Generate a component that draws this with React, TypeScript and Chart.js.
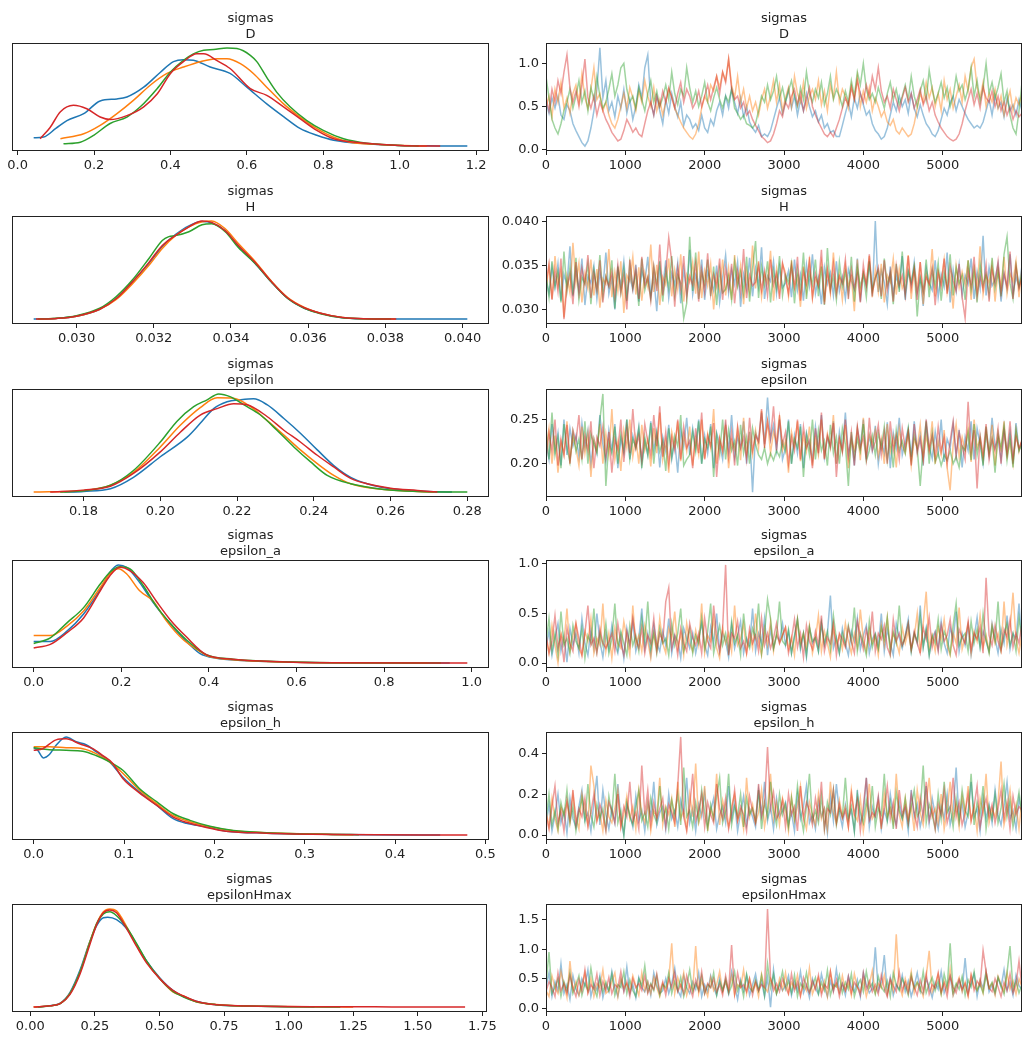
import React, { useEffect, useRef } from 'react'
import { Chart, registerables } from 'chart.js'

Chart.register(...registerables)

type Pt = [number, number]

// chain colours (matplotlib tab10 C0..C3)
const COLORS = ['#1f77b4', '#ff7f0e', '#2ca02c', '#d62728']
const TRACE_COLORS = ['rgba(31,119,180,0.45)', 'rgba(255,127,14,0.45)', 'rgba(44,160,44,0.45)', 'rgba(214,39,40,0.45)']
const DRAWS = 6000

const varNames = ['D', 'H', 'epsilon', 'epsilon_a', 'epsilon_h', 'epsilonHmax']

// ---- posterior densities, one curve per chain: [value, relative density]
const kdeD: Pt[][] = [
  [[0.042, 8.5], [0.068, 9.2], [0.1, 18], [0.129, 26], [0.173, 33], [0.216, 46], [0.26, 48], [0.286, 50], [0.33, 60], [0.373, 75], [0.408, 86], [0.434, 88], [0.46, 87.5], [0.504, 80.5], [0.556, 74], [0.6, 60], [0.652, 43], [0.696, 30], [0.739, 18], [0.783, 11], [0.827, 6], [0.914, 2.4], [1.0, 0.7], [1.1, 0.2], [1.177, 0]],
  [[0.112, 7.5], [0.173, 12.5], [0.216, 21], [0.26, 33], [0.303, 46.5], [0.347, 62], [0.391, 74], [0.434, 80.5], [0.478, 86], [0.522, 89], [0.548, 89], [0.583, 84], [0.617, 74], [0.652, 60], [0.696, 43], [0.739, 29.5], [0.783, 17.7], [0.827, 9], [0.87, 4], [0.957, 1.4], [1.071, 0]],
  [[0.12, 2.4], [0.164, 4], [0.199, 11], [0.242, 23], [0.286, 29.6], [0.321, 40], [0.365, 58.5], [0.4, 75.5], [0.434, 87.4], [0.46, 94], [0.487, 97.6], [0.513, 98.3], [0.548, 100], [0.574, 99.3], [0.609, 92.5], [0.626, 86], [0.652, 70], [0.678, 55], [0.713, 40], [0.757, 26], [0.8, 16], [0.853, 7.5], [0.914, 3], [1.0, 0.7], [1.05, 0.2]],
  [[0.059, 7.5], [0.085, 19], [0.112, 35], [0.146, 41.5], [0.181, 38], [0.216, 29.6], [0.242, 27], [0.286, 31], [0.33, 40], [0.365, 53], [0.4, 74], [0.434, 86], [0.469, 94], [0.487, 94], [0.522, 87], [0.556, 79], [0.609, 58.5], [0.652, 51.7], [0.696, 40], [0.739, 28], [0.783, 16], [0.827, 7.5], [0.914, 3], [1.0, 0.7], [1.106, 0]],
]
const kdeH: Pt[][] = [
  [[0.02889, 0], [0.0294, 0.7], [0.03, 3], [0.0306, 10], [0.03103, 21], [0.03145, 38], [0.03188, 57], [0.03222, 74], [0.03256, 86], [0.03291, 95], [0.03325, 99.3], [0.0335, 98], [0.03385, 90], [0.03419, 74], [0.03462, 57], [0.03504, 38], [0.03547, 21], [0.0359, 11], [0.03632, 6], [0.03684, 1.7], [0.03744, 0.3], [0.03821, 0.05], [0.04012, 0]],
  [[0.029, 0], [0.0295, 0.8], [0.03, 3], [0.0306, 10], [0.03103, 20], [0.03145, 36], [0.03188, 55], [0.03222, 72], [0.03256, 85], [0.03291, 94], [0.03325, 99], [0.0335, 100], [0.03385, 92], [0.03419, 77], [0.03462, 59], [0.03504, 39], [0.03547, 22], [0.0359, 12], [0.03632, 6], [0.03684, 2], [0.03744, 0.4], [0.03825, 0]],
  [[0.029, 0], [0.0295, 0.9], [0.03, 3.5], [0.0306, 11], [0.03103, 23], [0.03145, 40], [0.03188, 62], [0.03222, 80], [0.03239, 84], [0.03256, 85], [0.03291, 89], [0.03325, 96], [0.0335, 97], [0.03385, 89], [0.03419, 73], [0.03462, 57], [0.03504, 38], [0.03547, 21], [0.0359, 11], [0.03632, 5.5], [0.03684, 1.6], [0.03744, 0.3], [0.03815, 0]],
  [[0.02895, 0], [0.0295, 0.7], [0.03, 3], [0.0306, 10], [0.03103, 21], [0.03145, 38], [0.03188, 58], [0.03222, 75], [0.03256, 85], [0.03291, 94], [0.03325, 100], [0.0335, 98.5], [0.03385, 90], [0.03419, 75], [0.03462, 58], [0.03504, 38.5], [0.03547, 21.5], [0.0359, 11.5], [0.03632, 6], [0.03684, 1.8], [0.03744, 0.3], [0.03828, 0]],
]
const kdeEpsilon: Pt[][] = [
  [[0.175, 0], [0.18, 0.7], [0.187, 3.4], [0.193, 15], [0.2, 36], [0.207, 56], [0.2104, 70], [0.2139, 85], [0.2174, 92], [0.2209, 94], [0.2243, 95], [0.2278, 89], [0.2322, 75], [0.2365, 60], [0.2409, 43], [0.2452, 27], [0.2496, 15], [0.2539, 8.5], [0.26, 3.4], [0.267, 1], [0.2722, 0.3], [0.276, 0]],
  [[0.167, 0], [0.18, 1.7], [0.187, 7], [0.193, 20], [0.2, 46], [0.2052, 68], [0.2104, 86], [0.2148, 96], [0.2191, 95.5], [0.2235, 87], [0.2278, 73], [0.2322, 58], [0.2365, 43], [0.2409, 29], [0.2452, 17], [0.2496, 8.5], [0.2583, 2.7], [0.2713, 0]],
  [[0.1739, 0], [0.18, 1.4], [0.187, 7], [0.193, 22], [0.2, 51], [0.2043, 72], [0.2087, 87], [0.2122, 94], [0.2152, 100], [0.2183, 97], [0.2217, 89], [0.2261, 78.5], [0.2304, 63], [0.2348, 46], [0.2391, 31], [0.2435, 17], [0.2496, 8.5], [0.2583, 2.7], [0.267, 0.7], [0.28, 0]],
  [[0.1713, 0], [0.18, 2], [0.187, 6], [0.193, 19], [0.2, 41], [0.2052, 61], [0.2104, 78.5], [0.2148, 85], [0.2191, 90], [0.2226, 89], [0.2278, 77], [0.2322, 63], [0.2365, 51], [0.2409, 37.5], [0.2452, 25.6], [0.2496, 14], [0.2539, 8.5], [0.26, 4], [0.267, 1.7], [0.2722, 0]],
]
const kdeEpsilonA: Pt[][] = [
  [[0, 22], [0.038, 22], [0.076, 32.5], [0.114, 50], [0.152, 75], [0.174, 92.5], [0.193, 100], [0.212, 97.6], [0.242, 82], [0.273, 61.6], [0.303, 44.5], [0.341, 25.7], [0.379, 10], [0.417, 5], [0.492, 2.4], [0.682, 0.3], [0.95, 0]],
  [[0, 28], [0.038, 28], [0.076, 37.7], [0.114, 53], [0.152, 77], [0.174, 91], [0.193, 96], [0.212, 91], [0.242, 73.6], [0.273, 63], [0.303, 43], [0.341, 24], [0.379, 12], [0.4, 6.8], [0.455, 3.4], [0.53, 1.7], [0.682, 0.3], [0.9, 0]],
  [[0, 20], [0.038, 25.7], [0.076, 41], [0.114, 56.5], [0.152, 80.5], [0.174, 92.5], [0.197, 98], [0.22, 96], [0.25, 79], [0.28, 58], [0.311, 41], [0.348, 24], [0.394, 8.6], [0.455, 4], [0.53, 2], [0.682, 0.3], [0.93, 0]],
  [[0, 15.4], [0.038, 19], [0.076, 31], [0.114, 46], [0.152, 73.6], [0.174, 89], [0.197, 97.6], [0.22, 94], [0.25, 82], [0.28, 63], [0.311, 44.5], [0.348, 27], [0.394, 8.6], [0.455, 4], [0.53, 2], [0.682, 0.3], [0.99, 0]],
]
const kdeEpsilonH: Pt[][] = [
  [[0, 89], [0.0044, 86.4], [0.011, 78.6], [0.0174, 82], [0.0248, 91.5], [0.0359, 100], [0.047, 95], [0.058, 92], [0.069, 85], [0.084, 74.6], [0.0987, 59], [0.117, 44], [0.136, 30.5], [0.154, 17], [0.169, 12], [0.191, 8.5], [0.213, 4], [0.258, 2], [0.332, 0.7], [0.45, 0]],
  [[0, 90], [0.0174, 90], [0.0359, 89], [0.0544, 88], [0.069, 83], [0.084, 74.6], [0.0987, 63], [0.117, 46], [0.136, 32], [0.154, 20], [0.173, 13.6], [0.195, 8.5], [0.221, 4.4], [0.258, 2.4], [0.332, 0.7], [0.354, 0.3]],
  [[0, 89], [0.0174, 87], [0.0359, 86.4], [0.0544, 85.4], [0.069, 81], [0.084, 74.6], [0.0987, 66], [0.117, 47.5], [0.136, 34], [0.154, 22], [0.173, 15], [0.195, 9], [0.221, 4.7], [0.258, 2.4], [0.332, 0.7], [0.36, 0.4]],
  [[0, 86.4], [0.01, 88], [0.0248, 97], [0.0359, 98], [0.0507, 93], [0.0655, 88], [0.0766, 81], [0.0876, 73], [0.0987, 57.6], [0.117, 43], [0.136, 30.5], [0.154, 18.6], [0.169, 13], [0.191, 7.8], [0.213, 4], [0.258, 2], [0.332, 0.7], [0.48, 0]],
]
const kdeEpsilonHmax: Pt[][] = [
  [[0.02, 0], [0.077, 1.5], [0.116, 4], [0.154, 15], [0.193, 38], [0.231, 67], [0.257, 83], [0.283, 91], [0.3, 91.5], [0.334, 89], [0.373, 80], [0.411, 64], [0.45, 47], [0.501, 30], [0.552, 17], [0.591, 11], [0.642, 6], [0.719, 2.5], [0.848, 1], [1.0, 0.4], [1.1, 0]],
  [[0.0128, 0], [0.077, 1.4], [0.116, 3.7], [0.154, 14], [0.193, 36], [0.231, 66.7], [0.257, 85], [0.283, 97], [0.308, 100], [0.334, 98], [0.373, 82], [0.411, 63], [0.45, 46], [0.501, 29], [0.552, 15.6], [0.591, 11.6], [0.642, 5.4], [0.719, 2.7], [0.848, 1], [1.169, 0.3], [1.25, 0]],
  [[0.03, 0], [0.077, 1.3], [0.116, 3.5], [0.154, 14], [0.193, 36], [0.231, 66], [0.257, 85], [0.283, 95], [0.308, 97], [0.334, 93], [0.373, 81], [0.411, 65], [0.45, 47], [0.501, 29], [0.552, 16], [0.591, 10.5], [0.642, 5.5], [0.719, 2.5], [0.848, 1], [1.05, 0.3], [1.2, 0]],
  [[0.0128, 0], [0.077, 1.4], [0.116, 3.5], [0.154, 13], [0.193, 34], [0.231, 64], [0.257, 84], [0.283, 96], [0.308, 99], [0.334, 96], [0.373, 80], [0.411, 62], [0.45, 45], [0.501, 29], [0.552, 17], [0.591, 11.5], [0.642, 6], [0.7, 2.8], [0.719, 2.5], [0.848, 1], [1.169, 0.4], [1.4, 0.2], [1.683, 0]],
]

// ---- traces, thinned to 160 values per chain over the 6000 draws,
// stored as integers in the unit given in TRACE_UNITS
const TRACE_UNITS = [0.01, 0.0001, 0.001, 0.01, 0.01, 0.01]

const traceD: number[][] = [
  [55, 42, 60, 48, 62, 40, 35, 52, 45, 30, 22, 15, 8, 4, 10, 25, 45, 70, 118, 60,
    80, 45, 55, 38, 62, 48, 70, 42, 58, 35, 50, 75, 60, 95, 110, 55, 40, 62, 45, 30,
    58, 42, 65, 50, 38, 55, 28, 40, 35, 25, 30, 22, 40, 25, 20, 35, 28, 45, 55, 40,
    62, 48, 70, 55, 42, 60, 38, 50, 32, 25, 20, 28, 15, 18, 15, 22, 35, 48, 60, 42,
    55, 70, 48, 62, 40, 58, 45, 65, 50, 38, 45, 32, 40, 25, 30, 20, 22, 15, 15, 28,
    42, 55, 38, 60, 48, 65, 52, 40, 45, 30, 22, 18, 12, 15, 25, 40, 55, 45, 62, 50,
    58, 42, 65, 48, 38, 52, 40, 30, 25, 18, 15, 22, 35, 48, 40, 55, 62, 45, 58, 50,
    42, 35, 30, 25, 28, 25, 32, 45, 58, 40, 62, 48, 55, 38, 60, 45, 52, 40, 58, 45],
  [50, 62, 38, 70, 55, 78, 48, 60, 42, 65, 75, 55, 88, 60, 48, 70, 95, 58, 65, 45,
    55, 40, 30, 25, 35, 50, 65, 48, 72, 60, 45, 68, 55, 80, 62, 50, 72, 45, 58, 40,
    55, 70, 62, 48, 40, 32, 25, 20, 15, 12, 18, 30, 48, 62, 55, 75, 68, 85, 72, 90,
    80, 105, 75, 60, 85, 55, 70, 48, 62, 45, 55, 40, 58, 70, 48, 62, 80, 55, 75, 45,
    60, 72, 50, 85, 65, 55, 78, 48, 62, 70, 58, 80, 52, 68, 45, 75, 60, 90, 55, 70,
    62, 48, 75, 58, 85, 50, 68, 55, 72, 45, 60, 50, 38, 45, 32, 28, 35, 22, 18, 25,
    20, 15, 18, 30, 48, 65, 55, 78, 60, 72, 50, 65, 45, 80, 58, 70, 48, 62, 75, 55,
    85, 68, 95, 105, 72, 60, 78, 50, 65, 55, 70, 48, 62, 40, 55, 68, 45, 60, 52, 65],
  [85, 60, 35, 25, 18, 30, 45, 55, 70, 48, 62, 80, 55, 68, 45, 72, 58, 85, 62, 48,
    55, 70, 88, 62, 75, 95, 100, 70, 55, 62, 48, 72, 58, 45, 65, 80, 55, 68, 50, 60,
    75, 58, 90, 65, 52, 70, 62, 95, 72, 55, 68, 50, 62, 78, 55, 45, 60, 72, 58, 48,
    62, 55, 70, 48, 42, 35, 40, 30, 28, 25, 30, 45, 62, 55, 75, 58, 68, 85, 60, 72,
    55, 68, 80, 62, 50, 72, 58, 90, 65, 55, 70, 60, 78, 52, 65, 85, 58, 70, 62, 50,
    68, 55, 80, 62, 90, 75, 100, 70, 58, 65, 55, 72, 60, 48, 65, 78, 58, 70, 52, 62,
    75, 58, 85, 62, 50, 68, 80, 58, 92, 70, 55, 65, 78, 60, 72, 50, 62, 85, 68, 75,
    58, 70, 95, 62, 80, 55, 72, 100, 65, 78, 60, 72, 88, 55, 68, 40, 25, 18, 45, 78],
  [60, 45, 70, 55, 80, 65, 90, 110, 72, 55, 68, 50, 75, 105, 60, 48, 62, 40, 55, 45,
    35, 28, 20, 15, 10, 12, 22, 35, 28, 20, 25, 18, 15, 30, 45, 55, 40, 62, 50, 68,
    55, 72, 60, 48, 65, 78, 55, 70, 62, 48, 55, 68, 50, 62, 75, 58, 72, 85, 65, 90,
    78, 105, 70, 58, 62, 48, 55, 40, 45, 35, 28, 22, 15, 12, 8, 10, 18, 30, 45, 38,
    55, 48, 62, 70, 52, 65, 45, 58, 72, 50, 40, 32, 25, 18, 15, 20, 15, 25, 35, 48,
    60, 52, 72, 58, 80, 65, 55, 75, 62, 85, 70, 95, 68, 55, 62, 48, 70, 58, 45, 60,
    72, 55, 65, 48, 58, 70, 52, 62, 45, 55, 40, 32, 25, 20, 15, 12, 10, 12, 18, 30,
    45, 58, 70, 52, 65, 48, 72, 60, 55, 68, 50, 62, 45, 55, 40, 50, 35, 45, 38, 42],
]
const traceH: number[][] = [
  [335, 318, 348, 325, 352, 310, 340, 328, 372, 315, 345, 322, 358, 305, 338, 330, 350, 312, 342, 325,
    365, 318, 336, 300, 347, 327, 355, 314, 339, 322, 351, 309, 344, 331, 360, 316, 337, 298, 349, 324,
    356, 313, 341, 328, 353, 307, 346, 320, 368, 317, 339, 326, 357, 311, 343, 333, 321, 350, 308, 336,
    362, 319, 345, 329, 354, 303, 340, 323, 359, 315, 347, 326, 371, 312, 338, 332, 355, 318, 349, 325,
    330, 344, 314, 357, 322, 340, 310, 351, 327, 363, 318, 336, 306, 348, 329, 342, 316, 355, 321, 337,
    312, 346, 333, 323, 358, 309, 341, 327, 352, 315, 401, 320, 344, 331, 306, 349, 318, 338, 325, 361,
    311, 343, 328, 354, 319, 336, 304, 347, 330, 322, 356, 314, 340, 326, 365, 308, 345, 321, 351, 317,
    339, 329, 358, 312, 343, 324, 384, 316, 348, 327, 334, 352, 309, 341, 323, 363, 318, 337, 326, 350],
  [322, 350, 312, 361, 327, 344, 291, 338, 319, 376, 330, 353, 308, 341, 324, 357, 316, 346, 302, 335,
    329, 369, 314, 343, 321, 355, 296, 339, 332, 360, 317, 348, 310, 342, 326, 374, 320, 351, 305, 337,
    328, 358, 315, 345, 323, 363, 309, 340, 331, 354, 318, 366, 313, 344, 327, 352, 300, 339, 322, 357,
    316, 347, 311, 362, 329, 350, 306, 343, 320, 373, 324, 355, 314, 341, 330, 367, 310, 346, 319, 352,
    342, 315, 356, 325, 338, 303, 349, 321, 360, 313, 336, 327, 353, 309, 344, 318, 365, 323, 340, 311,
    350, 326, 337, 298, 357, 316, 343, 329, 361, 314, 345, 320, 352, 308, 339, 331, 358, 317, 346, 324,
    333, 362, 312, 348, 323, 354, 306, 341, 327, 369, 315, 344, 330, 357, 319, 338, 301, 350, 325, 343,
    328, 356, 311, 347, 322, 372, 317, 339, 330, 352, 309, 345, 326, 360, 318, 341, 332, 355, 314, 348],
  [340, 314, 355, 326, 343, 308, 366, 321, 348, 317, 359, 311, 337, 329, 352, 306, 345, 323, 362, 315,
    338, 327, 356, 301, 349, 319, 347, 310, 353, 325, 341, 304, 358, 322, 336, 312, 349, 328, 355, 309,
    344, 324, 361, 316, 339, 330, 290, 307, 383, 321, 365, 312, 342, 328, 357, 315, 349, 305, 346, 319,
    323, 338, 311, 354, 326, 343, 318, 360, 309, 347, 378, 313, 349, 328, 355, 308, 344, 324, 361, 316,
    339, 330, 352, 307, 346, 321, 365, 312, 342, 328, 357, 315, 349, 305, 370, 323, 338, 311, 354, 326,
    343, 318, 360, 309, 347, 326, 340, 314, 355, 322, 336, 345, 312, 358, 327, 341, 306, 352, 320, 366,
    318, 344, 331, 349, 292, 336, 321, 357, 314, 345, 327, 353, 310, 342, 325, 363, 316, 348, 330, 339,
    311, 356, 322, 345, 308, 351, 328, 340, 317, 359, 324, 343, 315, 363, 383, 330, 312, 350, 326, 341],
  [328, 352, 311, 345, 320, 358, 289, 325, 340, 306, 354, 318, 347, 329, 362, 313, 341, 322, 356, 308,
    337, 326, 343, 315, 351, 319, 339, 300, 357, 324, 346, 312, 360, 327, 337, 310, 349, 321, 374, 316,
    342, 382, 355, 303, 348, 323, 361, 314, 338, 328, 353, 309, 345, 320, 364, 317, 340, 326, 358, 311,
    347, 324, 352, 307, 343, 319, 369, 313, 339, 327, 331, 350, 322, 344, 316, 357, 328, 341, 312, 353,
    336, 318, 349, 325, 360, 310, 344, 329, 355, 314, 341, 327, 368, 306, 346, 321, 352, 317, 338, 330,
    357, 312, 345, 324, 340, 308, 351, 326, 363, 319, 335, 348, 315, 356, 322, 343, 309, 350, 328, 339,
    316, 361, 324, 345, 311, 354, 320, 337, 329, 347, 305, 342, 326, 358, 318, 349, 333, 321, 352, 314,
    290, 344, 327, 360, 315, 338, 323, 351, 309, 346, 330, 355, 318, 341, 326, 366, 312, 349, 324, 337],
]
const traceEpsilon: number[][] = [
  [225, 205, 245, 215, 235, 198, 250, 210, 240, 220, 232, 208, 246, 218, 238, 200, 228, 212, 255, 222,
    203, 238, 215, 245, 195, 228, 212, 250, 205, 232, 218, 242, 200, 226, 210, 248, 215, 236, 196, 230,
    214, 244, 205, 225, 190, 238, 220, 252, 210, 240, 218, 250, 200, 232, 212, 245, 195, 235, 222, 205,
    242, 215, 255, 208, 230, 218, 248, 200, 236, 168, 235, 225, 258, 222, 275, 228, 244, 215, 250, 205,
    218, 250, 200, 232, 212, 245, 195, 235, 222, 205, 242, 215, 255, 208, 230, 218, 248, 200, 236, 214,
    258, 210, 228, 198, 240, 220, 250, 205, 232, 215, 243, 200, 226, 212, 247, 195, 235, 218, 252, 210,
    225, 240, 208, 248, 215, 232, 198, 244, 220, 206, 236, 212, 250, 202, 228, 218, 245, 208, 238, 196,
    230, 215, 248, 205, 240, 222, 200, 235, 210, 252, 218, 228, 204, 242, 212, 236, 200, 246, 215, 226],
  [215, 240, 200, 232, 190, 225, 210, 248, 205, 230, 218, 198, 242, 212, 235, 185, 228, 215, 245, 200,
    234, 210, 262, 205, 225, 192, 238, 218, 250, 208, 230, 200, 244, 215, 228, 197, 240, 212, 258, 205,
    226, 190, 236, 220, 248, 203, 232, 214, 242, 198, 228, 210, 250, 206, 234, 218, 262, 200, 230, 213,
    244, 195, 226, 216, 240, 204, 252, 211, 233, 210, 238, 218, 260, 222, 248, 212, 236, 225, 255, 215,
    226, 190, 236, 220, 248, 203, 232, 214, 242, 198, 228, 210, 250, 206, 234, 218, 255, 200, 230, 213,
    244, 195, 226, 216, 240, 204, 252, 211, 233, 222, 238, 208, 228, 200, 245, 214, 230, 196, 240, 220,
    212, 236, 198, 228, 218, 244, 205, 232, 215, 248, 200, 226, 210, 238, 195, 170, 222, 245, 208, 230,
    215, 240, 202, 250, 218, 228, 205, 236, 212, 244, 198, 230, 216, 248, 208, 225, 200, 238, 214, 228],
  [240, 205, 258, 210, 230, 195, 245, 218, 202, 236, 214, 228, 205, 248, 200, 234, 222, 212, 250, 279,
    175, 225, 212, 242, 200, 234, 215, 250, 205, 228, 218, 240, 195, 230, 210, 246, 200, 235, 214, 226,
    192, 240, 208, 232, 220, 255, 198, 205, 210, 236, 214, 248, 200, 228, 218, 242, 185, 232, 210, 250,
    205, 238, 215, 226, 198, 244, 212, 230, 200, 240, 222, 210, 205, 218, 200, 212, 204, 215, 208, 225,
    214, 248, 200, 228, 218, 242, 185, 232, 210, 250, 205, 238, 215, 226, 198, 244, 212, 230, 200, 240,
    222, 175, 236, 208, 228, 214, 245, 203, 215, 232, 210, 235, 218, 242, 204, 230, 196, 238, 215, 226,
    212, 240, 205, 232, 218, 175, 220, 248, 200, 234, 202, 212, 198, 210, 204, 215, 200, 208, 196, 220,
    215, 236, 204, 245, 210, 230, 198, 242, 212, 228, 190, 235, 218, 242, 204, 230, 196, 238, 215, 222],
  [205, 235, 215, 250, 198, 228, 210, 244, 200, 238, 225, 255, 205, 232, 215, 248, 195, 230, 220, 242,
    208, 236, 190, 228, 216, 250, 202, 240, 212, 262, 218, 232, 205, 245, 225, 210, 255, 220, 265, 208,
    236, 200, 230, 215, 250, 205, 242, 218, 226, 195, 240, 212, 258, 205, 232, 220, 246, 185, 228, 215,
    250, 208, 236, 198, 242, 218, 230, 205, 252, 215, 232, 225, 262, 218, 248, 228, 265, 215, 252, 222,
    236, 200, 230, 215, 250, 205, 242, 218, 226, 195, 240, 212, 258, 205, 232, 220, 246, 185, 228, 215,
    250, 208, 236, 198, 242, 218, 230, 205, 252, 215, 225, 244, 210, 236, 200, 248, 215, 232, 205, 240,
    218, 236, 198, 245, 212, 228, 205, 250, 215, 232, 208, 242, 214, 230, 200, 226, 248, 210, 236, 220,
    205, 270, 215, 238, 172, 232, 210, 245, 205, 228, 215, 240, 200, 235, 212, 248, 206, 230, 218, 226],
]
const traceEpsilonA: number[][] = [
  [15, 32, 8, 25, 40, 12, 28, 1, 35, 18, 30, 10, 45, 20, 8, 33, 15, 50, 22, 6,
    30, 14, 38, 20, 10, 28, 5, 35, 18, 42, 12, 25, 55, 15, 30, 8, 38, 20, 12, 32,
    18, 45, 10, 28, 22, 5, 35, 25, 15, 30, 10, 25, 40, 18, 8, 36, 20, 50, 12, 30,
    22, 6, 38, 15, 28, 42, 10, 25, 18, 55, 12, 30, 20, 45, 8, 35, 15, 28, 22, 40,
    18, 32, 10, 26, 44, 14, 30, 6, 36, 20, 25, 12, 40, 18, 30, 68, 15, 26, 10, 35,
    20, 8, 32, 22, 45, 14, 28, 38, 10, 24, 30, 16, 50, 12, 34, 20, 8, 40, 26, 15,
    28, 44, 12, 30, 20, 58, 16, 35, 8, 25, 32, 14, 42, 20, 10, 36, 24, 52, 12, 30,
    18, 38, 8, 26, 46, 16, 32, 22, 12, 40, 25, 10, 34, 20, 48, 14, 30, 24, 60, 18],
  [25, 10, 38, 18, 0, 30, 20, 55, 12, 28, 40, 15, 8, 32, 22, 45, 10, 25, 18, 60,
    12, 30, 5, 35, 20, 15, 42, 25, 8, 58, 18, 28, 12, 38, 22, 5, 30, 15, 45, 20,
    10, 35, 25, 52, 15, 30, 8, 40, 20, 12, 33, 18, 60, 10, 28, 22, 45, 15, 5, 35,
    20, 30, 12, 58, 18, 25, 40, 10, 30, 15, 50, 22, 8, 35, 18, 42, 12, 30, 20, 28,
    36, 14, 26, 8, 44, 20, 30, 16, 38, 10, 24, 48, 12, 32, 20, 6, 36, 18, 28, 14,
    40, 22, 10, 30, 16, 54, 24, 12, 34, 20, 28, 8, 38, 18, 46, 14, 30, 22, 10, 36,
    20, 32, 14, 26, 50, 10, 40, 72, 16, 28, 12, 36, 24, 44, 18, 8, 30, 20, 56, 14,
    26, 40, 10, 32, 22, 48, 16, 28, 12, 38, 20, 30, 14, 62, 18, 34, 71, 24, 10, 30],
  [20, 45, 12, 30, 8, 52, 18, 25, 10, 38, 22, 15, 35, 5, 28, 20, 55, 12, 30, 18,
    40, 10, 25, 60, 15, 32, 20, 8, 38, 18, 28, 12, 45, 22, 62, 15, 30, 10, 35, 20,
    25, 8, 40, 18, 30, 55, 12, 22, 35, 10, 28, 20, 45, 15, 32, 60, 10, 25, 38, 18,
    30, 12, 42, 20, 28, 8, 50, 22, 15, 35, 25, 60, 10, 30, 64, 45, 15, 28, 62, 22,
    18, 34, 10, 28, 44, 16, 30, 8, 36, 22, 26, 12, 40, 20, 32, 14, 48, 24, 10, 30,
    18, 38, 22, 56, 12, 30, 20, 8, 42, 16, 28, 14, 36, 24, 46, 10, 32, 20, 58, 18,
    26, 40, 12, 30, 22, 48, 16, 34, 8, 28, 20, 44, 14, 32, 24, 10, 38, 60, 18, 26,
    30, 12, 42, 20, 34, 16, 50, 24, 10, 36, 22, 62, 14, 28, 40, 18, 30, 12, 46, 24],
  [30, 10, 22, 48, 15, 28, 1, 35, 20, 12, 40, 25, 8, 30, 58, 18, 25, 10, 35, 20,
    15, 22, 30, 12, 40, 20, 8, 32, 18, 45, 25, 15, 35, 10, 28, 20, 45, 12, 30, 22,
    62, 76, 15, 28, 8, 35, 20, 12, 40, 25, 18, 30, 10, 45, 22, 15, 58, 28, 12, 35,
    99, 8, 30, 25, 42, 15, 22, 10, 35, 20, 28, 12, 45, 18, 30, 15, 25, 40, 20, 28,
    36, 10, 24, 44, 16, 30, 6, 38, 22, 14, 32, 18, 48, 12, 26, 20, 40, 8, 30, 24,
    16, 36, 22, 10, 42, 28, 14, 34, 20, 52, 12, 30, 24, 38, 16, 8, 44, 22, 30, 18,
    26, 40, 14, 32, 20, 10, 36, 24, 46, 16, 30, 12, 38, 22, 28, 44, 18, 8, 34, 26,
    20, 42, 14, 30, 24, 36, 10, 86, 28, 18, 38, 22, 12, 34, 26, 44, 16, 30, 20, 40],
]
const traceEpsilonH: number[][] = [
  [5, 15, 2, 10, 20, 6, 12, 1, 18, 8, 4, 14, 22, 7, 11, 2, 16, 29, 5, 22,
    10, 3, 13, 6, 25, 8, 0, 15, 10, 4, 19, 7, 12, 2, 16, 9, 26, 5, 11, 14,
    3, 20, 8, 12, 4, 17, 10, 28, 6, 13, 2, 15, 9, 21, 5, 12, 18, 3, 10, 14,
    6, 24, 8, 16, 2, 11, 19, 5, 13, 9, 4, 22, 10, 26, 7, 14, 3, 18, 9, 12,
    16, 5, 11, 2, 20, 8, 14, 24, 6, 10, 3, 17, 9, 13, 1, 19, 7, 25, 11, 4,
    15, 8, 12, 2, 22, 6, 10, 28, 4, 14, 9, 18, 3, 12, 7, 20, 10, 5, 16, 8,
    13, 2, 22, 9, 15, 4, 11, 24, 6, 18, 10, 3, 14, 8, 20, 5, 12, 33, 7, 16,
    4, 11, 26, 9, 13, 2, 18, 8, 15, 6, 22, 10, 5, 14, 26, 8, 12, 3, 18, 10],
  [12, 4, 18, 8, 2, 14, 10, 16, 6, 20, 9, 3, 20, 12, 5, 34, 24, 7, 11, 2,
    17, 9, 6, 13, 22, 4, 10, 19, 8, 14, 3, 22, 11, 6, 16, 2, 12, 9, 28, 5,
    14, 10, 18, 4, 26, 8, 12, 3, 20, 9, 35, 6, 11, 24, 2, 13, 8, 30, 5, 17,
    10, 4, 14, 20, 7, 12, 3, 28, 9, 15, 6, 11, 22, 4, 13, 30, 8, 16, 5, 18,
    12, 2, 19, 7, 14, 24, 9, 3, 16, 10, 5, 20, 8, 13, 3, 26, 11, 6, 17, 9,
    14, 4, 22, 10, 7, 18, 2, 12, 25, 8, 11, 16, 3, 20, 9, 13, 6, 30, 10, 4,
    18, 8, 14, 2, 22, 11, 5, 16, 28, 9, 13, 6, 20, 3, 12, 26, 8, 15, 4, 19,
    10, 24, 7, 14, 2, 18, 11, 30, 6, 13, 9, 16, 36, 5, 12, 22, 8, 15, 3, 18],
  [8, 20, 5, 12, 3, 16, 9, 22, 6, 14, 2, 11, 18, 7, 25, 10, 4, 15, 8, 13,
    3, 19, 10, 30, 6, 12, 0, 16, 9, 5, 14, 22, 7, 11, 4, 18, 10, 6, 24, 8,
    13, 3, 17, 10, 20, 5, 33, 9, 12, 4, 16, 7, 22, 11, 3, 15, 8, 19, 28, 6,
    12, 30, 5, 14, 9, 20, 4, 18, 10, 13, 7, 22, 3, 16, 9, 26, 12, 5, 20, 10,
    15, 4, 18, 8, 24, 11, 2, 14, 30, 7, 12, 6, 19, 3, 16, 10, 22, 5, 13, 9,
    28, 8, 14, 2, 20, 11, 6, 17, 9, 24, 4, 13, 10, 30, 7, 16, 3, 21, 12, 8,
    18, 5, 14, 22, 9, 12, 34, 6, 15, 10, 3, 20, 8, 26, 11, 14, 4, 18, 7, 22,
    12, 9, 30, 5, 16, 10, 24, 3, 14, 8, 20, 6, 13, 25, 9, 17, 4, 12, 21, 10],
  [10, 3, 14, 24, 6, 12, 2, 17, 8, 22, 5, 13, 9, 18, 4, 11, 20, 7, 15, 10,
    2, 16, 12, 6, 20, 4, 14, 9, 26, 7, 11, 3, 34, 10, 22, 5, 16, 8, 13, 18,
    4, 15, 11, 6, 24, 48, 9, 2, 14, 30, 7, 12, 20, 4, 16, 10, 6, 25, 13, 8,
    18, 3, 11, 22, 7, 14, 10, 2, 19, 12, 6, 25, 9, 15, 43, 13, 21, 8, 11, 17,
    4, 20, 10, 14, 2, 24, 8, 16, 12, 5, 18, 9, 26, 3, 13, 11, 22, 6, 15, 8,
    12, 4, 20, 10, 17, 2, 14, 28, 7, 11, 9, 19, 5, 13, 24, 8, 16, 3, 22, 10,
    14, 6, 20, 11, 4, 18, 9, 26, 7, 13, 3, 15, 10, 22, 6, 12, 28, 9, 16, 5,
    11, 20, 7, 14, 24, 4, 12, 18, 9, 15, 6, 13, 22, 8, 16, 3, 19, 10, 14, 12],
]
const traceEpsilonHmax: number[][] = [
  [35, 60, 20, 45, 30, 75, 25, 40, 15, 55, 32, 22, 50, 38, 65, 20, 42, 30, 55, 18,
    40, 28, 62, 35, 20, 48, 30, 70, 25, 40, 18, 52, 35, 28, 45, 22, 60, 38, 25, 30,
    50, 25, 42, 68, 30, 20, 55, 35, 25, 45, 32, 60, 20, 40, 28, 55, 35, 22, 50, 30,
    45, 25, 62, 38, 15, 48, 30, 55, 22, 40, 58, 30, 45, 20, 52, 2, 65, 25, 42, 30,
    38, 55, 22, 44, 30, 62, 26, 40, 18, 50, 34, 24, 58, 36, 20, 46, 30, 66, 28, 42,
    22, 54, 36, 28, 48, 20, 60, 40, 26, 34, 103, 30, 44, 90, 26, 52, 22, 40, 32, 56,
    28, 46, 20, 38, 60, 30, 24, 50, 36, 18, 44, 32, 62, 26, 40, 54, 22, 36, 48, 30,
    85, 26, 42, 58, 20, 48, 34, 62, 28, 40, 24, 52, 36, 65, 30, 44, 22, 56, 38, 32],
  [30, 20, 55, 35, 25, 62, 40, 18, 80, 30, 45, 22, 38, 60, 28, 50, 20, 42, 35, 65,
    25, 30, 45, 60, 20, 50, 35, 42, 28, 55, 38, 22, 60, 30, 45, 25, 52, 35, 20, 42,
    30, 48, 110, 25, 52, 35, 60, 22, 40, 30, 105, 25, 45, 35, 20, 52, 30, 40, 62, 28,
    45, 30, 55, 22, 40, 35, 65, 25, 50, 30, 42, 20, 58, 35, 28, 50, 38, 25, 50, 32,
    60, 26, 44, 34, 56, 22, 40, 30, 68, 24, 38, 52, 28, 46, 20, 62, 34, 42, 26, 55,
    30, 44, 22, 58, 36, 28, 48, 20, 40, 64, 26, 42, 34, 56, 24, 46, 30, 125, 38, 22,
    50, 32, 62, 26, 44, 36, 20, 54, 97, 28, 40, 58, 24, 46, 30, 66, 22, 38, 52, 28,
    44, 20, 56, 36, 30, 48, 26, 62, 34, 42, 22, 54, 40, 28, 60, 32, 46, 24, 50, 36],
  [40, 95, 25, 35, 50, 20, 45, 30, 60, 25, 38, 55, 22, 42, 30, 68, 35, 20, 50, 28,
    45, 30, 58, 22, 40, 35, 62, 25, 48, 30, 20, 50, 38, 72, 28, 42, 30, 55, 22, 40,
    35, 60, 25, 45, 30, 52, 20, 38, 65, 28, 42, 30, 55, 25, 40, 35, 60, 22, 45, 30,
    50, 25, 38, 62, 30, 45, 20, 58, 35, 28, 48, 30, 55, 22, 75, 35, 58, 25, 40, 62,
    32, 46, 26, 56, 20, 42, 34, 60, 28, 38, 52, 24, 44, 30, 64, 22, 40, 36, 56, 26,
    44, 32, 58, 20, 38, 48, 28, 62, 34, 42, 24, 54, 36, 28, 46, 20, 60, 40, 30, 50,
    38, 22, 56, 34, 44, 28, 62, 26, 40, 52, 30, 46, 24, 58, 36, 110, 28, 42, 32, 54,
    22, 48, 36, 62, 30, 40, 26, 56, 34, 44, 28, 52, 38, 24, 60, 105, 32, 46, 26, 40],
  [28, 45, 35, 20, 60, 30, 42, 25, 55, 35, 20, 48, 30, 65, 25, 40, 32, 58, 22, 45,
    30, 52, 25, 40, 35, 62, 28, 45, 20, 50, 35, 42, 30, 55, 25, 40, 32, 58, 28, 45,
    22, 50, 35, 60, 28, 40, 25, 55, 35, 20, 48, 30, 62, 25, 42, 35, 50, 28, 40, 22,
    55, 30, 107, 25, 60, 35, 40, 28, 50, 22, 45, 30, 40, 35, 168, 52, 30, 42, 28, 50,
    36, 24, 58, 30, 44, 20, 52, 38, 26, 46, 32, 56, 22, 40, 34, 62, 28, 48, 20, 42,
    30, 54, 26, 44, 36, 22, 60, 32, 46, 28, 40, 24, 56, 34, 20, 50, 38, 28, 62, 30,
    44, 26, 52, 36, 22, 48, 30, 58, 24, 40, 34, 60, 28, 42, 20, 54, 36, 26, 48, 32,
    42, 22, 56, 30, 46, 38, 98, 62, 34, 28, 50, 36, 20, 44, 30, 58, 26, 40, 80, 34],
]

// ---- tick labels
const kdeTicks = [
  ['0.0', '0.2', '0.4', '0.6', '0.8', '1.0', '1.2'],
  ['0.030', '0.032', '0.034', '0.036', '0.038', '0.040'],
  ['0.18', '0.20', '0.22', '0.24', '0.26', '0.28'],
  ['0.0', '0.2', '0.4', '0.6', '0.8', '1.0'],
  ['0.0', '0.1', '0.2', '0.3', '0.4', '0.5'],
  ['0.00', '0.25', '0.50', '0.75', '1.00', '1.25', '1.50', '1.75'],
]
const traceXTicks = ['0', '1000', '2000', '3000', '4000', '5000']
const traceYTicks = [
  ['0.0', '0.5', '1.0'],
  ['0.030', '0.035', '0.040'],
  ['0.20', '0.25'],
  ['0.0', '0.5', '1.0'],
  ['0.0', '0.2', '0.4'],
  ['0.0', '0.5', '1.0', '1.5'],
]

const KDES = [kdeD, kdeH, kdeEpsilon, kdeEpsilonA, kdeEpsilonH, kdeEpsilonHmax]
const TRACES = [traceD, traceH, traceEpsilon, traceEpsilonA, traceEpsilonH, traceEpsilonHmax]

// layout (px)
const AX_TOPS = [43, 216, 389, 560, 732, 904]
const AX_H = 108
const TITLE_H = 43
const XAXIS_H = 24
const PANEL_H = TITLE_H + AX_H + XAXIS_H
const FONT = 'DejaVu Sans'
const INK = '#222'

const framePlugin = {
  id: 'frame',
  afterDatasetsDraw(chart: Chart) {
    const { ctx, chartArea: a } = chart
    ctx.save()
    ctx.strokeStyle = INK
    ctx.lineWidth = 1
    const l = Math.round(a.left), t = Math.round(a.top)
    const r = Math.round(a.right), b = Math.round(a.bottom)
    ctx.strokeRect(l + 0.5, t + 0.5, r - l - 1, b - t - 1)
    ctx.restore()
  },
}

function padded(lo: number, hi: number) {
  const m = (hi - lo) * 0.05
  return { min: lo - m, max: hi + m }
}

function tickAxis(labels: string[]) {
  const values = labels.map(Number)
  return {
    afterBuildTicks: (s: any) => { s.ticks = values.map(v => ({ value: v })) },
    ticks: {
      autoSkip: false,
      maxRotation: 0,
      padding: 3,
      color: INK,
      font: { family: FONT, size: 13 },
      callback: (v: any) => labels[values.indexOf(Number(v))] ?? '',
    },
    grid: { display: true, drawOnChartArea: false, drawTicks: true, tickLength: 4, color: INK },
    border: { display: false },
  }
}

function Panel({ kind, row }: { kind: 'kde' | 'trace'; row: number }) {
  const canvasRef = useRef<HTMLCanvasElement>(null)
  const left = kind === 'kde' ? 0 : 500
  const width = kind === 'kde' ? 500 : 531

  useEffect(() => {
    if (!canvasRef.current) return
    let datasets: any[]
    let xr: { min: number; max: number }
    let yr: { min: number; max: number }
    let xTicks: string[]

    if (kind === 'kde') {
      const curves = KDES[row]
      const xs = curves.flat().map(p => p[0])
      const ys = curves.flat().map(p => p[1])
      xr = padded(Math.min(...xs), Math.max(...xs))
      yr = padded(0, Math.max(...ys))
      xTicks = kdeTicks[row]
      datasets = curves.map((c, i) => ({
        data: c.map(([x, y]) => ({ x, y })),
        borderColor: COLORS[i],
        borderWidth: 1.5,
        pointRadius: 0,
        tension: 0.4,
        cubicInterpolationMode: 'monotone',
        order: 3 - i,
      }))
    } else {
      const unit = TRACE_UNITS[row]
      const chains = TRACES[row].map(c => c.map(v => v * unit))
      const all = chains.flat()
      xr = { min: 0, max: DRAWS - 1 }
      yr = padded(Math.min(...all), Math.max(...all))
      xTicks = traceXTicks
      datasets = chains.map((c, i) => ({
        data: c.map((y, j) => ({ x: (j * (DRAWS - 1)) / (c.length - 1), y })),
        borderColor: TRACE_COLORS[i],
        borderWidth: 1.5,
        pointRadius: 0,
        tension: 0,
        order: 3 - i,
      }))
    }

    const yAxis =
      kind === 'kde'
        ? { type: 'linear', display: false, ...yr }
        : { type: 'linear', ...yr, ...tickAxis(traceYTicks[row]), afterFit: (s: any) => { s.width = 46 } }

    const chart = new Chart(canvasRef.current, {
      type: 'line',
      data: { datasets },
      options: {
        animation: false,
        responsive: true,
        maintainAspectRatio: false,
        events: [],
        layout: { padding: kind === 'kde' ? { left: 12, right: 11, top: 0, bottom: 0 } : { left: 0, right: 9, top: 0, bottom: 0 } },
        plugins: {
          legend: { display: false },
          tooltip: { enabled: false },
          title: {
            display: true,
            fullSize: false,
            text: ['sigmas', varNames[row]],
            color: INK,
            font: { family: FONT, size: 13, weight: 'normal', lineHeight: 16 / 13 },
            padding: { top: 11, bottom: 0 },
          },
        },
        scales: {
          x: { type: 'linear', ...xr, ...tickAxis(xTicks), afterFit: (s: any) => { s.height = XAXIS_H } },
          y: yAxis as any,
        },
      } as any,
      plugins: [framePlugin],
    })
    return () => chart.destroy()
  }, [kind, row])

  return (
    <div style={{ position: 'absolute', left, top: AX_TOPS[row] - TITLE_H, width, height: PANEL_H }}>
      <canvas ref={canvasRef} />
    </div>
  )
}

export default function App() {
  return (
    <div style={{ position: 'absolute', left: 0, top: 0, width: 1031, height: 1040, background: '#fff' }}>
      {varNames.map((_, r) => (
        <React.Fragment key={r}>
          <Panel kind="kde" row={r} />
          <Panel kind="trace" row={r} />
        </React.Fragment>
      ))}
    </div>
  )
}
